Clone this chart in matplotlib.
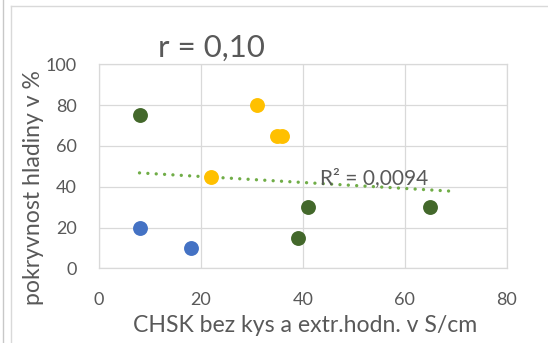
import numpy as np
import matplotlib
matplotlib.use("Agg")
import matplotlib.pyplot as plt
from matplotlib.lines import Line2D

plt.rcParams['font.family'] = ['Lato', 'DejaVu Sans']

# Measurements grouped by colour
blue_x = [8, 18]
blue_y = [20, 10]
green_x = [8, 39, 41, 65]
green_y = [75, 15, 30, 30]
yellow_x = [22, 31, 35, 36]
yellow_y = [45, 80, 65, 65]

x_ticks = [0, 20, 40, 60, 80]
y_ticks = [0, 20, 40, 60, 80, 100]

title_text = "r = 0,10"
xlabel_text = "CHSK bez kys a extr.hodn. v S/cm"
ylabel_text = "pokryvnost hladiny v %"

TXT = "#595959"
GRID = "#d9d9d9"

fig = plt.figure(figsize=(5.48, 3.43), dpi=100)
fig.patch.set_facecolor("white")

# chart-area frame lines
fig.add_artist(Line2D([10.5 / 548, 10.5 / 548], [0, 1 - 6 / 343], color=GRID, lw=1.0))
fig.add_artist(Line2D([10.5 / 548, 1], [1 - 6 / 343, 1 - 6 / 343], color=GRID, lw=1.0))
fig.add_artist(Line2D([2.5 / 548, 2.5 / 548], [0, 1], color="#c8c8c8", lw=1.0))

ax = fig.add_axes([98.7 / 548, 1 - 268.3 / 343, 408 / 548, 204 / 343])
ax.set_xlim(0, 80)
ax.set_ylim(0, 100)
ax.set_xticks(x_ticks)
ax.set_yticks(y_ticks)
ax.grid(True, color=GRID, lw=0.9)
ax.set_axisbelow(True)
for s in ax.spines.values():
    s.set_color(GRID)
    s.set_linewidth(0.9)
ax.tick_params(length=0, labelsize=13, colors=TXT)
ax.tick_params(axis='x', pad=17)
ax.tick_params(axis='y', pad=16)

msize = 115
ax.scatter(blue_x, blue_y, s=msize, color="#4472C4", zorder=3, linewidths=0)
ax.scatter(green_x, green_y, s=msize, color="#43682B", zorder=3, linewidths=0)
ax.scatter(yellow_x, yellow_y, s=msize, color="#FFC000", zorder=3, linewidths=0)

# linear trend over all points, extended 5 units forward
all_x = np.array(blue_x + green_x + yellow_x, dtype=float)
all_y = np.array(blue_y + green_y + yellow_y, dtype=float)
slope, intercept = np.polyfit(all_x, all_y, 1)
r2 = np.corrcoef(all_x, all_y)[0, 1] ** 2
tx = np.array([all_x.min(), all_x.max() + 5])
ax.plot(tx, slope * tx + intercept, color="#70AD47", lw=2.4,
        linestyle=(0, (0.01, 2.5)), dash_capstyle='round', zorder=2)
ax.text(54, 44.3, ("R² = %.4f" % r2).replace(".", ","), fontsize=15, color=TXT,
        ha='center', va='center', zorder=4)

fig.text(211 / 548, 1 - 48 / 343, title_text, fontsize=22.5, color=TXT,
         ha='center', va='center')
fig.text(305 / 548, 1 - 325 / 343, xlabel_text, fontsize=16.6, color=TXT,
         ha='center', va='center')
fig.text(34 / 548, 1 - 188 / 343, ylabel_text, fontsize=16.6, color=TXT,
         ha='center', va='center', rotation=90)

fig.savefig("out.png", dpi=100, facecolor="white")
